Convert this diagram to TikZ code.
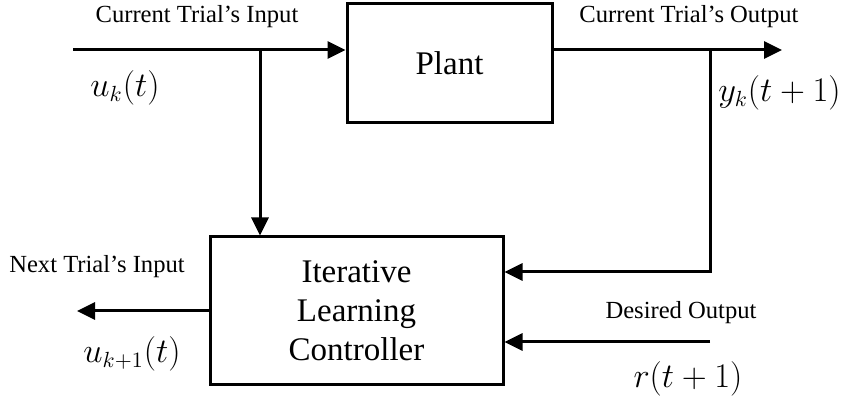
\documentclass[tikz,border=0pt]{standalone}
\usepackage{fontspec}
\setmainfont{Liberation Serif}
\usetikzlibrary{arrows.meta}
\tikzset{
  blk/.style={draw, line width=1.5pt, inner sep=0pt, align=center, font=\rmfamily\fontsize{16.5}{19.5}\selectfont},
  arr/.style={line width=1.5pt, -{Triangle[length=9pt,width=8.5pt]}},
  lbl/.style={inner sep=0pt, font=\rmfamily\fontsize{12.3}{14}\selectfont},
  mth/.style={inner sep=0pt, font=\fontsize{16}{18}\selectfont}
}
\begin{document}
\begin{tikzpicture}[x=0.5pt,y=-0.5pt]
\useasboundingbox (0,0) rectangle (848,400);
\node[blk, minimum width=102.5pt, minimum height=59.5pt] (plant) at (449.5,63.5) {Plant};
\node[blk, minimum width=146.5pt, minimum height=74pt] (ilc) at (356.5,311) {Iterative\\Learning\\Controller};
\coordinate (in1) at (73,50);
\coordinate (b1) at (260,50);
\coordinate (b2) at (710,50);
\coordinate (o) at (782,50);
\coordinate (c1) at (710,272);
\coordinate (r0) at (710,342);
\coordinate (uo) at (77,311);
\draw[arr] (in1) -- (in1 -| plant.west);
\draw[arr] (b1) -- (b1 |- ilc.north);
\draw[arr] (plant.east |- o) -- (o);
\draw[arr] (b2) -- (c1) -- (c1 -| ilc.east);
\draw[arr] (r0) -- (r0 -| ilc.east);
\draw[arr] (ilc.west) -- (uo);
\node[lbl] (t1) at (197,17) {Current Trial’s Input};
\node[lbl] (t2) at (689,17) {Current Trial’s Output};
\node[lbl] (t3) at (97,267) {Next Trial’s Input};
\node[lbl] (t4) at (681,313) {Desired Output};
\node[mth] (m1) at (125,88) {$u_k(t)$};
\node[mth, anchor=west] (m2) at (718,93) {$y_k(t+1)$};
\node[mth] (m3) at (132,354) {$u_{k+1}(t)$};
\node[mth] (m4) at (688,379) {$r(t+1)$};
\end{tikzpicture}
\end{document}
